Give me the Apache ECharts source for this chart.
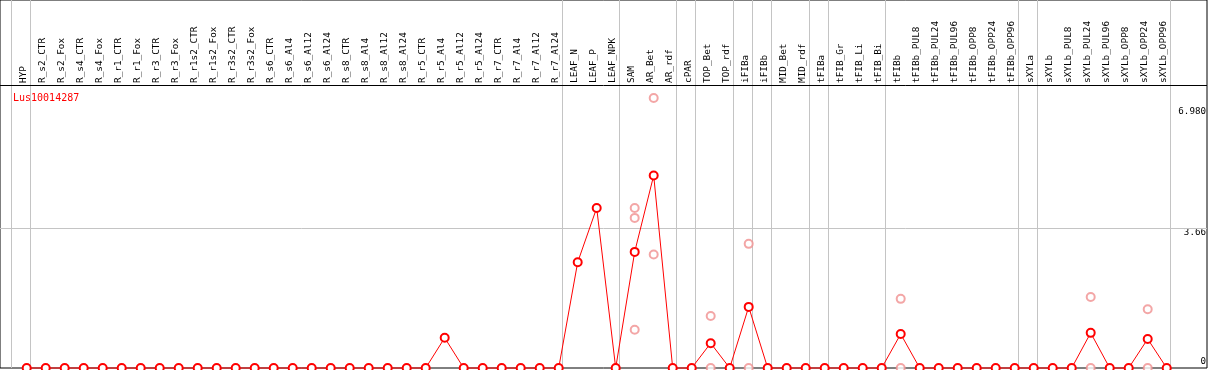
<!DOCTYPE html>
<html>
<head>
<meta charset="utf-8">
<script src="https://cdn.jsdelivr.net/npm/echarts@6/dist/echarts.min.js"></script>
<style>
html,body{margin:0;padding:0;background:#fff;}
#chart{width:1209px;height:370px;}
</style>
</head>
<body>
<div id="chart"></div>
<script>
const geneLabel = 'Lus10014287';
const categories = ['HYP','R_s2_CTR','R_s2_Fox','R_s4_CTR','R_s4_Fox','R_r1_CTR','R_r1_Fox','R_r3_CTR','R_r3_Fox',
  'R_r1s2_CTR','R_r1s2_Fox','R_r3s2_CTR','R_r3s2_Fox','R_s6_CTR','R_s6_Al4','R_s6_Al12','R_s6_Al24',
  'R_s8_CTR','R_s8_Al4','R_s8_Al12','R_s8_Al24','R_r5_CTR','R_r5_Al4','R_r5_Al12','R_r5_Al24',
  'R_r7_CTR','R_r7_Al4','R_r7_Al12','R_r7_Al24','LEAF_N','LEAF_P','LEAF_NPK','SAM','AR_Bet','AR_rdf',
  'cPAR','TOP_Bet','TOP_rdf','iFIBa','iFIBb','MID_Bet','MID_rdf','tFIBa','tFIB_Gr','tFIB_Li','tFIB_Bi',
  'tFIBb','tFIBb_PUL8','tFIBb_PUL24','tFIBb_PUL96','tFIBb_OPP8','tFIBb_OPP24','tFIBb_OPP96',
  'sXYLa','sXYLb','sXYLb_PUL8','sXYLb_PUL24','sXYLb_PUL96','sXYLb_OPP8','sXYLb_OPP24','sXYLb_OPP96'];
const meanValues = [0,0,0,0,0,0,0,0,0,
  0,0,0,0,0,0,0,0,
  0,0,0,0,0,0.79,0,0,
  0,0,0,0,2.77,4.19,0,3.04,5.04,0,
  0,0.65,0,1.60,0,0,0,0,0,0,0,
  0.89,0,0,0,0,0,0,
  0,0,0,0.92,0,0,0.76,0];
const replicateCategories = ['SAM','SAM','SAM','AR_Bet','AR_Bet','TOP_Bet','TOP_Bet','iFIBa','iFIBa',
  'tFIBb','tFIBb','sXYLb_PUL24','sXYLb_PUL24','sXYLb_OPP24','sXYLb_OPP24'];
const replicateValues = [4.19,3.93,1.00,7.07,2.97,1.36,0,3.25,0,1.81,0,1.86,0,1.54,0];
const separatorsAfter = [-1,0,28,31,34,35,37,38,39,41,42,45,52,53,60];
const yTickValues = [0,3.66,6.98];
const yTickLabels = ['0','3.66','6.980'];

const MONO = 'DejaVu Sans Mono';
const chart = echarts.init(document.getElementById('chart'));

const lineData = meanValues.map((v,i)=>[i,v]);
const repData = replicateValues.map((v,k)=>[categories.indexOf(replicateCategories[k]), v]);
const sepLines = separatorsAfter.map(s=>({xAxis: s + 0.21}));
sepLines.push({yAxis: yTickValues[1]});

const richBase = {fontFamily: MONO, fontSize: 9.2, color: '#000'};
chart.setOption({
  animation: false,
  title: {text: geneLabel, left: 8, top: 88, textStyle: {color: '#ff0000', fontSize: 10, fontWeight: 'normal', fontFamily: MONO}},
  grid: [
    {left: 0, right: 2, top: 0, bottom: 2, show: true, borderColor: '#000', borderWidth: 1, backgroundColor: 'transparent'},
    {left: 14.5, width: 1159, top: 85, height: 10}
  ],
  xAxis: [
    {type: 'value', gridIndex: 0, min: -1.405, max: 62.121, show: false},
    {type: 'category', gridIndex: 1, position: 'top', data: categories, boundaryGap: true,
     axisLine: {show: false}, axisTick: {show: false}, splitLine: {show: false},
     axisLabel: {interval: 0, rotate: 90, margin: 2, fontFamily: MONO, fontSize: 9.4, color: '#000'}}
  ],
  yAxis: [
    {type: 'value', gridIndex: 0, min: 0, max: 9.634, position: 'right',
     axisLine: {show: false}, axisTick: {show: false}, splitLine: {show: false},
     axisLabel: {inside: true, margin: 1, customValues: yTickValues, fontFamily: MONO, fontSize: 9.2, color: '#000',
       formatter: function(v){ const k = yTickValues.indexOf(v); return '{t' + k + '|' + yTickLabels[k] + '}'; },
       rich: {
         t0: Object.assign({padding: [0,0,12,0]}, richBase),
         t1: Object.assign({padding: [9,0,0,0]}, richBase),
         t2: Object.assign({padding: [21,0,0,0]}, richBase)
       }}},
    {type: 'value', gridIndex: 1, show: false}
  ],
  graphic: [
    {type: 'line', shape: {x1: 0, y1: 85.5, x2: 1207, y2: 85.5}, style: {stroke: '#000', lineWidth: 1}, z: 10}
  ],
  series: [
    {type: 'scatter', xAxisIndex: 0, yAxisIndex: 0, data: repData, z: 2, clip: false,
     symbol: 'emptyCircle', symbolSize: 8,
     itemStyle: {color: '#f09090', borderColor: '#f09090', borderWidth: 1.3},
     markLine: {silent: true, symbol: 'none', label: {show: false}, z: 1,
       lineStyle: {color: '#c4c4c4', width: 1, type: 'solid'}, data: sepLines}},
    {type: 'line', xAxisIndex: 0, yAxisIndex: 0, data: lineData, z: 3, clip: false,
     symbol: 'emptyCircle', symbolSize: 8, showAllSymbol: true,
     lineStyle: {color: '#ff0000', width: 1},
     itemStyle: {color: '#ff0000', borderColor: '#ff0000', borderWidth: 1.5}}
  ]
});
</script>
</body>
</html>
